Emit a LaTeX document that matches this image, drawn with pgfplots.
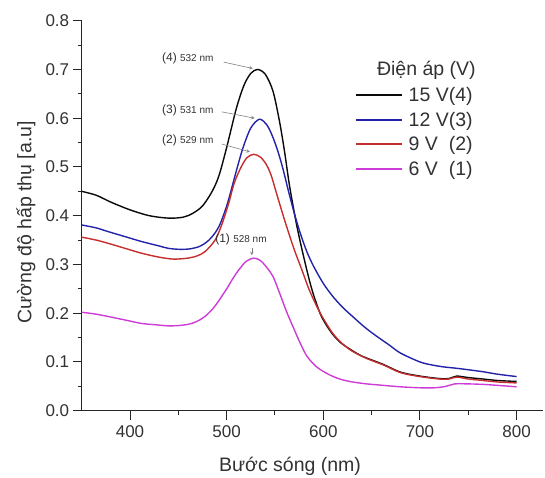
\documentclass[border=0pt]{standalone}
\usepackage{fontspec}
\setmainfont{Liberation Sans}
\usepackage{pgfplots}
\pgfplotsset{compat=1.18}

\definecolor{c15}{RGB}{10,10,10}
\definecolor{c12}{RGB}{35,35,170}
\definecolor{c9}{RGB}{200,45,45}
\definecolor{c6}{RGB}{205,60,215}
\definecolor{txt}{RGB}{50,50,50}

\begin{document}
\begin{tikzpicture}
\path[use as bounding box] (-81.7pt,-66.3pt) rectangle (463.3pt,410.7pt);
\begin{axis}[
scale only axis,
width=461pt, height=390pt,
xmin=350, xmax=827,
ymin=0, ymax=0.8,
axis x line=bottom, axis y line=left,
axis line style={-, line width=1.1pt, black!85},
xtick={400,500,600,700,800},
ytick={0,0.1,...,0.8},
minor tick num=1,
tick align=outside,
major tick length=9pt, minor tick length=4pt,
tick style={line width=1pt, black!85},
yticklabel style={/pgf/number format/.cd, fixed, fixed zerofill, precision=1},
xticklabel style={yshift=-2pt},
/pgf/number format/assume math mode=true,
tick label style={font=\fontsize{17}{20}\selectfont, text=txt},
xlabel={Bước sóng (nm)},
ylabel={Cường độ hấp thụ [a.u]},
label style={font=\fontsize{19.5}{23}\selectfont, text=txt},
xlabel style={at={(axis description cs:0.452,0)}, anchor=center, yshift=-56pt},
ylabel style={at={(axis description cs:-0.121,0.483)}, anchor=center},
legend style={at={(axis cs:632.5,0.668)}, anchor=north west, draw=none, fill=none,
  font=\fontsize{19.5}{23}\selectfont, text=txt, row sep=5pt, inner sep=0pt},
legend cell align=left,
legend image code/.code={\draw[#1, line width=1.8pt] (0pt,0pt) -- (46pt,0pt);},
every axis plot/.append style={line width=1.4pt},
clip=false,
]
\addplot[c15, smooth] coordinates {
(350,0.450) (365,0.442) (380,0.428) (400,0.412) (420,0.400) (440,0.395) (455,0.397)
(465,0.405) (475,0.420) (485,0.450) (492,0.482) (500,0.540) (510,0.620) (518,0.668)
(525,0.692) (532,0.700) (540,0.690) (548,0.655) (555,0.590) (560,0.530) (565,0.462)
(572,0.385) (578,0.330) (585,0.272) (590,0.237) (597,0.198) (603,0.176) (610,0.156)
(617,0.141) (627,0.127) (640,0.112) (662,0.095) (680,0.079) (700,0.071) (720,0.066)
(730,0.066) (738,0.071) (750,0.068) (765,0.065) (780,0.062) (800,0.060)};
\addlegendentry{\hspace*{4pt}15 V(4)}
\addplot[c12, smooth] coordinates {
(350,0.381) (365,0.375) (378,0.367) (395,0.357) (412,0.347) (428,0.339) (440,0.333)
(452,0.331) (462,0.332) (472,0.337) (480,0.347) (487,0.362) (493,0.382) (500,0.420)
(505,0.455) (510,0.492) (517,0.540) (525,0.580) (534,0.598) (542,0.585) (548,0.560)
(553,0.532) (558,0.498) (564,0.450) (570,0.405) (576,0.365) (583,0.326) (590,0.296)
(600,0.261) (610,0.234) (620,0.212) (631,0.192) (643,0.171) (655,0.153) (668,0.135)
(680,0.118) (700,0.100) (712,0.094) (724,0.090) (738,0.087) (750,0.084) (765,0.080)
(780,0.075) (800,0.070)};
\addlegendentry{\hspace*{4pt}12 V(3)}
\addplot[c9, smooth] coordinates {
(350,0.356) (365,0.350) (378,0.343) (395,0.333) (412,0.323) (430,0.315) (445,0.311)
(460,0.313) (470,0.318) (478,0.327) (488,0.350) (495,0.382) (502,0.425) (508,0.468)
(515,0.500) (521,0.519) (528,0.526) (535,0.520) (541,0.505) (546,0.483) (552,0.443)
(557,0.410) (562,0.378) (570,0.330) (578,0.288) (585,0.250) (593,0.215) (600,0.189)
(610,0.158) (620,0.137) (630,0.122) (645,0.107) (662,0.094) (680,0.078) (700,0.070)
(720,0.065) (730,0.065) (738,0.069) (750,0.065) (765,0.062) (780,0.059) (800,0.057)};
\addlegendentry{\hspace*{4pt}\rlap{9 V}\phantom{15 V}(2)}
\addplot[c6, smooth] coordinates {
(350,0.202) (365,0.198) (378,0.193) (395,0.186) (412,0.179) (428,0.176) (440,0.174)
(452,0.175) (462,0.178) (470,0.184) (478,0.194) (486,0.210) (492,0.226) (500,0.250)
(507,0.273) (513,0.290) (520,0.306) (528,0.313) (535,0.308) (541,0.295) (548,0.275)
(555,0.240) (562,0.203) (570,0.166) (576,0.139) (583,0.112) (593,0.090) (605,0.075)
(617,0.065) (630,0.059) (645,0.055) (662,0.052) (680,0.049) (700,0.047) (715,0.047)
(727,0.050) (736,0.055) (750,0.055) (765,0.054) (780,0.052) (800,0.049)};
\addlegendentry{\hspace*{4pt}\rlap{6 V}\phantom{15 V}(1)}

\node[anchor=west, font=\fontsize{19.5}{23}\selectfont, text=txt, inner sep=0pt]
  at (axis cs:655.4,0.699) {Điện áp (V)};

\node[anchor=west, inner sep=0pt, text=txt] at (axis cs:433,0.7235)
  {\fontsize{12}{14}\selectfont(4) \fontsize{10}{12}\selectfont 532 nm};
\node[anchor=west, inner sep=0pt, text=txt] at (axis cs:433,0.617)
  {\fontsize{12}{14}\selectfont(3) \fontsize{10}{12}\selectfont 531 nm};
\node[anchor=west, inner sep=0pt, text=txt] at (axis cs:433,0.555)
  {\fontsize{12}{14}\selectfont(2) \fontsize{10}{12}\selectfont 529 nm};
\node[anchor=west, inner sep=0pt, text=txt] at (axis cs:488,0.352)
  {\fontsize{12}{14}\selectfont(1) \fontsize{10}{12}\selectfont 528 nm};
\draw[-stealth, gray, line width=0.6pt] (axis cs:497,0.715) -- (axis cs:527,0.702);
\draw[-stealth, gray, line width=0.6pt] (axis cs:495,0.613) -- (axis cs:529,0.600);
\draw[-stealth, gray, line width=0.6pt] (axis cs:495,0.547) -- (axis cs:524,0.531);
\draw[-stealth, gray, line width=0.6pt] (axis cs:526,0.333) -- (axis cs:526,0.319);
\end{axis}
\end{tikzpicture}
\end{document}
